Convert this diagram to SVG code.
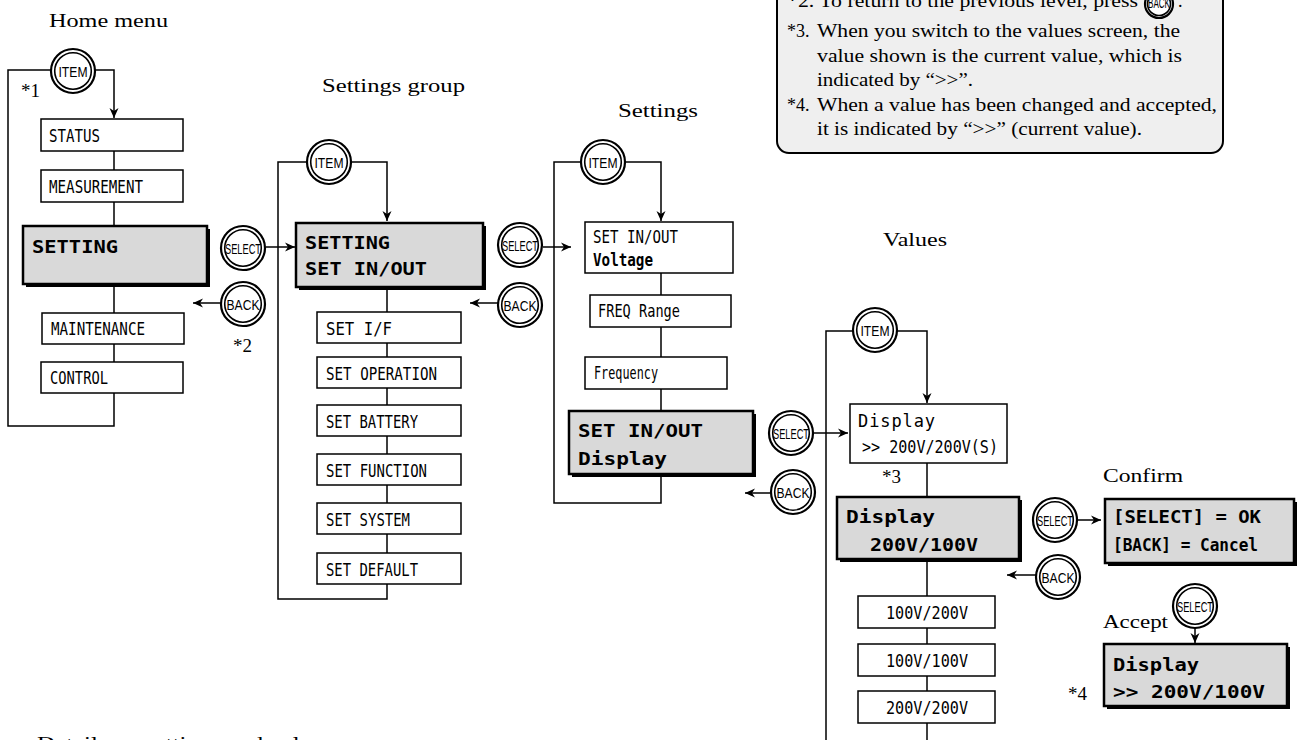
<svg xmlns="http://www.w3.org/2000/svg" xmlns:xlink="http://www.w3.org/1999/xlink" width="1297" height="740" viewBox="0 0 1297 740">
<style>
.box{fill:#fff;stroke:#000;stroke-width:1.5}
.sbox{fill:#d9d9d9;stroke:#000;stroke-width:2.5}
.shd{fill:#000}
.lbl{font-family:"DejaVu Sans Mono","Liberation Mono",monospace;font-size:17px;fill:#000}
.b{font-weight:bold}
.ser{font-family:"Liberation Serif",serif;font-size:19px;fill:#000}
.note{font-family:"Liberation Serif",serif;font-size:18px;fill:#000}
.bo{fill:#fff;stroke:#000;stroke-width:2.2}
.bi{fill:none;stroke:#000;stroke-width:1.6}
.bt{font-family:"Liberation Sans",sans-serif;font-size:15px;text-anchor:middle;fill:#000}
.conn{fill:none;stroke:#000;stroke-width:1.5}
</style>
<defs>
<marker id="arr" markerWidth="11" markerHeight="10" refX="10" refY="5" orient="auto" markerUnits="userSpaceOnUse">
<path d="M0,0.5 L10,5 L0,9.5 L3,5 z" fill="#000"/>
</marker>
<g id="btn"><circle class="bo" r="22"/><circle class="bi" r="18.3"/></g>
<g id="btnS"><circle class="bo" r="14" stroke-width="1.6"/><circle class="bi" r="11.5" stroke-width="1.2"/></g>
</defs>
<rect width="1297" height="740" fill="#fff"/>

<g id="notes">
<rect x="777" y="-20" width="446" height="173" rx="12" fill="#efefef" stroke="#000" stroke-width="2"/>
<text class="note" x="787" y="7" textLength="351" lengthAdjust="spacingAndGlyphs">*2. To return to the previous level, press</text>
<use xlink:href="#btnS" x="1159" y="4"/>
<text class="bt" x="1159" y="8" font-size="10" textLength="22" lengthAdjust="spacingAndGlyphs">BACK</text>
<text class="note" x="1178" y="7">.</text>
<text class="note" x="787" y="37">*3.</text>
<text class="note" x="817" y="37" textLength="363" lengthAdjust="spacingAndGlyphs">When you switch to the values screen, the</text>
<text class="note" x="817" y="62" textLength="365" lengthAdjust="spacingAndGlyphs">value shown is the current value, which is</text>
<text class="note" x="817" y="86" textLength="156" lengthAdjust="spacingAndGlyphs">indicated by “&gt;&gt;”.</text>
<text class="note" x="787" y="111">*4.</text>
<text class="note" x="817" y="111" textLength="400" lengthAdjust="spacingAndGlyphs">When a value has been changed and accepted,</text>
<text class="note" x="817" y="135" textLength="325" lengthAdjust="spacingAndGlyphs">it is indicated by “&gt;&gt;” (current value).</text>
</g>

<g id="headings">
<text class="ser" x="49" y="27" textLength="119" lengthAdjust="spacingAndGlyphs">Home menu</text>
<text class="ser" x="322" y="92" textLength="143" lengthAdjust="spacingAndGlyphs">Settings group</text>
<text class="ser" x="618" y="117" textLength="80" lengthAdjust="spacingAndGlyphs">Settings</text>
<text class="ser" x="883" y="246" textLength="64" lengthAdjust="spacingAndGlyphs">Values</text>
<text class="ser" x="1103" y="482" textLength="80" lengthAdjust="spacingAndGlyphs">Confirm</text>
<text class="ser" x="1103" y="628" textLength="65" lengthAdjust="spacingAndGlyphs">Accept</text>
<text class="ser" x="21" y="97">*1</text>
<text class="ser" x="233" y="352">*2</text>
<text class="ser" x="882" y="483">*3</text>
<text class="ser" x="1068" y="700">*4</text>
<text class="ser" x="37" y="750" textLength="296" lengthAdjust="spacingAndGlyphs">Details on settings and values</text>
</g>

<g id="connectors">
<path class="conn" d="M114,393 V426 H8 V70 H114 V118" marker-end="url(#arr)"/>
<path class="conn" d="M114,151 V170 M114,202 V226 M114,284 V313 M114,344 V362"/>
<path class="conn" d="M266,247 H295" marker-end="url(#arr)"/>
<path class="conn" d="M221,303 H193" marker-end="url(#arr)"/>
<path class="conn" d="M387,287 V599 H278 V162 H387 V221" marker-end="url(#arr)"/>
<path class="conn" d="M543,247 H571" marker-end="url(#arr)"/>
<path class="conn" d="M498,303 H470" marker-end="url(#arr)"/>
<path class="conn" d="M661,273 V503 H554 V162 H661 V221" marker-end="url(#arr)"/>
<path class="conn" d="M813,433 H848" marker-end="url(#arr)"/>
<path class="conn" d="M770,493 H745" marker-end="url(#arr)"/>
<path class="conn" d="M927,463 V740"/>
<path class="conn" d="M826,740 V331 H927 V403" marker-end="url(#arr)"/>
<path class="conn" d="M1077,520 H1101" marker-end="url(#arr)"/>
<path class="conn" d="M1036,575 H1007" marker-end="url(#arr)"/>
<path class="conn" d="M1195,628 V643" marker-end="url(#arr)"/>
</g>

<g id="home-status"><rect class="box" x="41" y="119" width="142" height="32"/><text class="lbl" x="49" y="142" textLength="51" lengthAdjust="spacingAndGlyphs">STATUS</text></g>
<g id="home-measurement"><rect class="box" x="41" y="170" width="142" height="32"/><text class="lbl" x="49" y="193" textLength="94" lengthAdjust="spacingAndGlyphs">MEASUREMENT</text></g>
<g id="home-setting"><rect class="shd" x="26" y="229" width="184" height="58"/><rect class="sbox" x="23" y="226" width="184" height="58"/><text class="lbl b" x="32" y="253" font-size="26" textLength="86" lengthAdjust="spacingAndGlyphs">SETTING</text></g>
<g id="home-maintenance"><rect class="box" x="42" y="313" width="142" height="31"/><text class="lbl" x="51" y="335" textLength="94" lengthAdjust="spacingAndGlyphs">MAINTENANCE</text></g>
<g id="home-control"><rect class="box" x="41" y="362" width="142" height="31"/><text class="lbl" x="50" y="384" textLength="58" lengthAdjust="spacingAndGlyphs">CONTROL</text></g>

<g id="grp-setinout"><rect class="shd" x="299" y="226" width="187" height="64"/><rect class="sbox" x="296" y="223" width="187" height="64"/><text class="lbl b" x="305" y="249" font-size="22" textLength="85" lengthAdjust="spacingAndGlyphs">SETTING</text><text class="lbl b" x="305" y="275" font-size="22" textLength="122" lengthAdjust="spacingAndGlyphs">SET IN/OUT</text></g>
<g id="grp-setif"><rect class="box" x="317" y="312" width="144" height="31"/><text class="lbl" x="326" y="335" textLength="66" lengthAdjust="spacingAndGlyphs">SET I/F</text></g>
<g id="grp-setoperation"><rect class="box" x="317" y="357" width="144" height="31"/><text class="lbl" x="326" y="380" textLength="111" lengthAdjust="spacingAndGlyphs">SET OPERATION</text></g>
<g id="grp-setbattery"><rect class="box" x="317" y="405" width="144" height="31"/><text class="lbl" x="326" y="428" textLength="92" lengthAdjust="spacingAndGlyphs">SET BATTERY</text></g>
<g id="grp-setfunction"><rect class="box" x="317" y="454" width="144" height="31"/><text class="lbl" x="326" y="477" textLength="101" lengthAdjust="spacingAndGlyphs">SET FUNCTION</text></g>
<g id="grp-setsystem"><rect class="box" x="317" y="503" width="144" height="31"/><text class="lbl" x="326" y="526" textLength="84" lengthAdjust="spacingAndGlyphs">SET SYSTEM</text></g>
<g id="grp-setdefault"><rect class="box" x="317" y="553" width="144" height="31"/><text class="lbl" x="326" y="576" textLength="92" lengthAdjust="spacingAndGlyphs">SET DEFAULT</text></g>

<g id="set-voltage"><rect class="box" x="585" y="222" width="148" height="51"/><text class="lbl" x="593" y="243" textLength="85" lengthAdjust="spacingAndGlyphs">SET IN/OUT</text><text class="lbl b" x="593" y="266" textLength="60" lengthAdjust="spacingAndGlyphs">Voltage</text></g>
<g id="set-freqrange"><rect class="box" x="590" y="295" width="141" height="32"/><text class="lbl" x="598" y="317" textLength="82" lengthAdjust="spacingAndGlyphs">FREQ Range</text></g>
<g id="set-frequency"><rect class="box" x="585" y="357" width="142" height="32"/><text class="lbl" x="594" y="379" textLength="64" lengthAdjust="spacingAndGlyphs">Frequency</text></g>
<g id="set-display"><rect class="shd" x="572" y="414" width="184" height="63"/><rect class="sbox" x="569" y="411" width="184" height="63"/><text class="lbl b" x="578" y="437" font-size="21" textLength="125" lengthAdjust="spacingAndGlyphs">SET IN/OUT</text><text class="lbl b" x="578" y="465" font-size="21" textLength="89" lengthAdjust="spacingAndGlyphs">Display</text></g>

<g id="val-current"><rect class="box" x="850" y="404" width="157" height="59"/><text class="lbl" x="858" y="427" textLength="77" lengthAdjust="spacing">Display</text><text class="lbl" x="862" y="453" textLength="136" lengthAdjust="spacingAndGlyphs">&gt;&gt; 200V/200V(S)</text></g>
<g id="val-200-100"><rect class="shd" x="840" y="500" width="182" height="62"/><rect class="sbox" x="837" y="497" width="182" height="62"/><text class="lbl b" x="846" y="523" font-size="20" textLength="89" lengthAdjust="spacingAndGlyphs">Display</text><text class="lbl b" x="870" y="551" font-size="20" textLength="108" lengthAdjust="spacingAndGlyphs">200V/100V</text></g>
<g id="val-100-200"><rect class="box" x="858" y="596" width="137" height="32"/><text class="lbl" x="886" y="619" textLength="82" lengthAdjust="spacingAndGlyphs">100V/200V</text></g>
<g id="val-100-100"><rect class="box" x="858" y="644" width="137" height="32"/><text class="lbl" x="886" y="667" textLength="82" lengthAdjust="spacingAndGlyphs">100V/100V</text></g>
<g id="val-200-200"><rect class="box" x="858" y="691" width="137" height="32"/><text class="lbl" x="886" y="714" textLength="82" lengthAdjust="spacingAndGlyphs">200V/200V</text></g>

<g id="confirm"><rect class="shd" x="1108" y="502" width="189" height="64"/><rect class="sbox" x="1105" y="499" width="189" height="64"/><text class="lbl b" x="1113" y="523" font-size="20" textLength="148" lengthAdjust="spacingAndGlyphs">[SELECT] = OK</text><text class="lbl b" x="1113" y="551" font-size="20" textLength="145" lengthAdjust="spacingAndGlyphs">[BACK] = Cancel</text></g>
<g id="accept"><rect class="shd" x="1107" y="647" width="183" height="62"/><rect class="sbox" x="1104" y="644" width="183" height="62"/><text class="lbl b" x="1113" y="671" font-size="20" textLength="86" lengthAdjust="spacingAndGlyphs">Display</text><text class="lbl b" x="1113" y="698" font-size="20" textLength="152" lengthAdjust="spacingAndGlyphs">&gt;&gt; 200V/100V</text></g>

<g id="btn-item-1"><use xlink:href="#btn" x="73" y="71"/><text class="bt" x="73" y="76.5" textLength="29" lengthAdjust="spacingAndGlyphs">ITEM</text></g>
<g id="btn-item-2"><use xlink:href="#btn" x="329" y="162"/><text class="bt" x="329" y="167.5" textLength="29" lengthAdjust="spacingAndGlyphs">ITEM</text></g>
<g id="btn-item-3"><use xlink:href="#btn" x="603" y="162"/><text class="bt" x="603" y="167.5" textLength="29" lengthAdjust="spacingAndGlyphs">ITEM</text></g>
<g id="btn-item-4"><use xlink:href="#btn" x="875" y="330"/><text class="bt" x="875" y="335.5" textLength="29" lengthAdjust="spacingAndGlyphs">ITEM</text></g>
<g id="btn-select-1"><use xlink:href="#btn" x="243" y="248"/><text class="bt" x="243" y="253.5" textLength="36" lengthAdjust="spacingAndGlyphs">SELECT</text></g>
<g id="btn-back-1"><use xlink:href="#btn" x="243" y="304"/><text class="bt" x="243" y="309.5" textLength="33" lengthAdjust="spacingAndGlyphs">BACK</text></g>
<g id="btn-select-2"><use xlink:href="#btn" x="520" y="245"/><text class="bt" x="520" y="250.5" textLength="36" lengthAdjust="spacingAndGlyphs">SELECT</text></g>
<g id="btn-back-2"><use xlink:href="#btn" x="520" y="305"/><text class="bt" x="520" y="310.5" textLength="33" lengthAdjust="spacingAndGlyphs">BACK</text></g>
<g id="btn-select-3"><use xlink:href="#btn" x="791" y="433"/><text class="bt" x="791" y="438.5" textLength="36" lengthAdjust="spacingAndGlyphs">SELECT</text></g>
<g id="btn-back-3"><use xlink:href="#btn" x="793" y="492"/><text class="bt" x="793" y="497.5" textLength="33" lengthAdjust="spacingAndGlyphs">BACK</text></g>
<g id="btn-select-4"><use xlink:href="#btn" x="1055" y="520"/><text class="bt" x="1055" y="525.5" textLength="36" lengthAdjust="spacingAndGlyphs">SELECT</text></g>
<g id="btn-back-4"><use xlink:href="#btn" x="1058" y="577"/><text class="bt" x="1058" y="582.5" textLength="33" lengthAdjust="spacingAndGlyphs">BACK</text></g>
<g id="btn-select-5"><use xlink:href="#btn" x="1195" y="606"/><text class="bt" x="1195" y="611.5" textLength="36" lengthAdjust="spacingAndGlyphs">SELECT</text></g>
</svg>
